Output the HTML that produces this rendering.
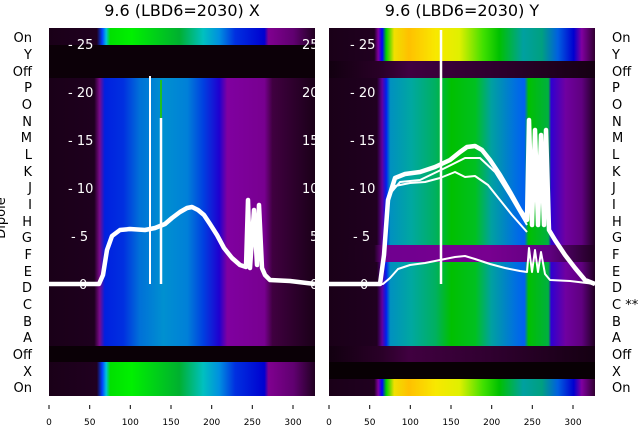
<!DOCTYPE html>
<html><head><meta charset="utf-8"><style>
html,body{margin:0;padding:0;background:#fff;}
svg{display:block;font-family:"DejaVu Sans","Liberation Sans",sans-serif;}
</style></head><body>
<svg width="640" height="440" viewBox="0 0 640 440" xmlns="http://www.w3.org/2000/svg">
<defs>
<linearGradient id="lb" x1="0" x2="1">
<stop offset="0" stop-color="#1a0018"/><stop offset="0.17" stop-color="#1e001e"/>
<stop offset="0.19" stop-color="#7a0a8a"/><stop offset="0.21" stop-color="#0020e0"/>
<stop offset="0.28" stop-color="#0030e0"/><stop offset="0.34" stop-color="#0070d8"/>
<stop offset="0.43" stop-color="#0090d0"/><stop offset="0.52" stop-color="#0080d8"/>
<stop offset="0.58" stop-color="#0040e0"/><stop offset="0.64" stop-color="#2000d0"/>
<stop offset="0.67" stop-color="#8000a0"/><stop offset="0.81" stop-color="#780090"/>
<stop offset="0.84" stop-color="#400040"/><stop offset="1" stop-color="#1a0018"/>
</linearGradient>
<linearGradient id="lg" x1="0" x2="1">
<stop offset="0" stop-color="#1a0018"/><stop offset="0.18" stop-color="#200020"/>
<stop offset="0.2" stop-color="#0040ff"/><stop offset="0.215" stop-color="#00c0e0"/>
<stop offset="0.23" stop-color="#00e000"/><stop offset="0.31" stop-color="#00f000"/>
<stop offset="0.49" stop-color="#00b030"/><stop offset="0.58" stop-color="#00c0c0"/>
<stop offset="0.64" stop-color="#0090e0"/><stop offset="0.7" stop-color="#0030e0"/>
<stop offset="0.81" stop-color="#0000d0"/><stop offset="0.825" stop-color="#800090"/>
<stop offset="0.92" stop-color="#600070"/><stop offset="1" stop-color="#200020"/>
</linearGradient>
<linearGradient id="ry" x1="0" x2="1">
<stop offset="0" stop-color="#1a0018"/><stop offset="0.17" stop-color="#200020"/>
<stop offset="0.185" stop-color="#8000a0"/><stop offset="0.2" stop-color="#0000ff"/>
<stop offset="0.215" stop-color="#00d000"/><stop offset="0.245" stop-color="#f0e000"/>
<stop offset="0.3" stop-color="#ffc000"/><stop offset="0.4" stop-color="#f8e800"/>
<stop offset="0.49" stop-color="#e0f000"/><stop offset="0.58" stop-color="#40e000"/>
<stop offset="0.64" stop-color="#00c000"/><stop offset="0.73" stop-color="#00a0a0"/>
<stop offset="0.8" stop-color="#00a080"/><stop offset="0.86" stop-color="#0060e0"/>
<stop offset="0.92" stop-color="#0000d0"/><stop offset="0.95" stop-color="#8000a0"/>
<stop offset="1" stop-color="#300030"/>
</linearGradient>
<linearGradient id="rg" x1="0" x2="1">
<stop offset="0" stop-color="#1a0018"/><stop offset="0.18" stop-color="#200020"/>
<stop offset="0.2" stop-color="#6000a0"/><stop offset="0.215" stop-color="#0020f0"/>
<stop offset="0.23" stop-color="#0090c0"/><stop offset="0.31" stop-color="#00a8a0"/>
<stop offset="0.4" stop-color="#00b060"/><stop offset="0.46" stop-color="#00c000"/>
<stop offset="0.55" stop-color="#00c020"/><stop offset="0.61" stop-color="#00a0a0"/>
<stop offset="0.7" stop-color="#0070e0"/><stop offset="0.735" stop-color="#0060f0"/>
<stop offset="0.75" stop-color="#00c000"/><stop offset="0.825" stop-color="#00b040"/>
<stop offset="0.835" stop-color="#3000d0"/><stop offset="0.89" stop-color="#7000a0"/>
<stop offset="0.95" stop-color="#600080"/><stop offset="1" stop-color="#200020"/>
</linearGradient>
<linearGradient id="rp" x1="0" x2="1">
<stop offset="0" stop-color="#1a0018"/><stop offset="0.17" stop-color="#200020"/>
<stop offset="0.2" stop-color="#700090"/><stop offset="0.6" stop-color="#780090"/>
<stop offset="0.83" stop-color="#600080"/><stop offset="1" stop-color="#200020"/>
</linearGradient>
<linearGradient id="ro" x1="0" x2="1">
<stop offset="0" stop-color="#120010"/><stop offset="0.2" stop-color="#2a0028"/>
<stop offset="0.3" stop-color="#400040"/><stop offset="0.6" stop-color="#300030"/>
<stop offset="1" stop-color="#150012"/>
</linearGradient>
</defs>

<text x="182" y="16" font-size="16" text-anchor="middle">9.6 (LBD6=2030) X</text>
<text x="462" y="16" font-size="16" text-anchor="middle">9.6 (LBD6=2030) Y</text>

<rect x="49" y="28" width="266" height="17" fill="url(#lg)"/>
<rect x="49" y="45" width="266" height="33" fill="#0c0008"/>
<rect x="49" y="78" width="266" height="268" fill="url(#lb)"/>
<rect x="49" y="346" width="266" height="16" fill="#0a0006"/>
<rect x="49" y="362" width="266" height="34" fill="url(#lg)"/>

<rect x="329" y="28" width="266" height="33" fill="url(#ry)"/>
<rect x="329" y="61" width="266" height="17" fill="url(#ro)"/>
<rect x="329" y="78" width="266" height="167" fill="url(#rg)"/>
<rect x="329" y="245" width="266" height="17" fill="url(#rp)"/>
<rect x="329" y="262" width="266" height="84" fill="url(#rg)"/>
<rect x="329" y="346" width="266" height="16" fill="url(#ro)"/>
<rect x="329" y="362" width="266" height="17" fill="#080004"/>
<rect x="329" y="379" width="266" height="17" fill="url(#ry)"/>

<g font-size="13" text-anchor="end" fill="#000">
<text x="32" y="42">On</text><text x="32" y="59">Y</text><text x="32" y="76">Off</text>
<text x="32" y="92">P</text><text x="32" y="109">O</text><text x="32" y="126">N</text>
<text x="32" y="142">M</text><text x="32" y="159">L</text><text x="32" y="176">K</text>
<text x="32" y="192">J</text><text x="32" y="209">I</text><text x="32" y="226">H</text>
<text x="32" y="242">G</text><text x="32" y="259">F</text><text x="32" y="276">E</text>
<text x="32" y="292">D</text><text x="32" y="309">C</text><text x="32" y="326">B</text>
<text x="32" y="342">A</text><text x="32" y="359">Off</text><text x="32" y="376">X</text>
<text x="32" y="392">On</text>
</g>
<text transform="translate(5,218) rotate(-90)" font-size="13" text-anchor="middle">Dipole</text>
<g font-size="13" fill="#000">
<text x="612" y="42">On</text><text x="612" y="59">Y</text><text x="612" y="76">Off</text>
<text x="612" y="92">P</text><text x="612" y="109">O</text><text x="612" y="126">N</text>
<text x="612" y="142">M</text><text x="612" y="159">L</text><text x="612" y="176">K</text>
<text x="612" y="192">J</text><text x="612" y="209">I</text><text x="612" y="226">H</text>
<text x="612" y="242">G</text><text x="612" y="259">F</text><text x="612" y="276">E</text>
<text x="612" y="292">D</text><text x="612" y="309">C **</text><text x="612" y="326">B</text>
<text x="612" y="342">A</text><text x="612" y="359">Off</text><text x="612" y="376">X</text>
<text x="612" y="392">On</text>
</g>

<g font-size="13" fill="#fff">
<text x="68" y="49">- 25</text><text x="68" y="97">- 20</text><text x="68" y="145">- 15</text>
<text x="68" y="193">- 10</text><text x="71" y="241">- 5</text><text x="79" y="289">0</text>
<text x="302" y="49">25</text><text x="302" y="97">20</text><text x="302" y="145">15</text>
<text x="302" y="193">10</text><text x="310" y="241">5</text><text x="310" y="289">0</text>
<text x="350" y="49">- 25</text><text x="350" y="97">- 20</text><text x="350" y="145">- 15</text>
<text x="350" y="193">- 10</text><text x="353" y="241">- 5</text><text x="360" y="289">0</text>
</g>

<line x1="150" y1="76" x2="150" y2="284" stroke="#fff" stroke-width="2"/>
<line x1="161" y1="80" x2="161" y2="118" stroke="#20c020" stroke-width="2"/>
<line x1="161" y1="118" x2="161" y2="284" stroke="#fff" stroke-width="2.5"/>
<polyline fill="none" stroke="#fff" stroke-width="4.5" stroke-linejoin="round"
points="49,284 99,284 103,275 107,250 112,236 120,230 130,229 145,230 155,228 165,224 172,218 180,212 187,208 192,207 198,210 204,215 210,224 217,235 224,248 232,258 240,265 246,267 248,200 250,268 254,210 257,265 259,205 262,268 265,275 270,280 290,281 315,284"/>

<line x1="441" y1="30" x2="441" y2="284" stroke="#fff" stroke-width="2.5"/>
<polyline fill="none" stroke="#fff" stroke-width="4.5" stroke-linejoin="round"
points="329,284 380,284 384,255 388,200 395,178 405,174 420,172 435,167 450,160 460,152 467,147 475,146 482,150 490,160 500,175 510,192 520,210 527,220 529,120 532,225 535,130 538,225 541,135 544,225 546,130 549,230 555,240 565,255 575,268 585,280 595,284"/>
<polyline fill="none" stroke="#fff" stroke-width="2" stroke-linejoin="round"
points="387,200 395,186 410,183 425,182 440,178 455,172 465,177 475,176 488,185 500,200 512,215 527,232"/>
<polyline fill="none" stroke="#fff" stroke-width="2" stroke-linejoin="round"
points="389,195 400,182 420,180 445,168 465,158 480,158 495,172 510,196 527,225"/>
<polyline fill="none" stroke="#fff" stroke-width="2" stroke-linejoin="round"
points="329,284 383,284 390,278 398,269 410,265 425,263 440,260 455,257 465,256 475,259 490,264 505,268 520,271 527,272 529,248 532,272 535,250 538,272 541,252 545,274 550,280 570,281 595,284"/>

<g stroke="#000" stroke-width="1">
<line x1="49" y1="405" x2="49" y2="409"/><line x1="89.7" y1="405" x2="89.7" y2="409"/>
<line x1="130.3" y1="405" x2="130.3" y2="409"/><line x1="171" y1="405" x2="171" y2="409"/>
<line x1="211.7" y1="405" x2="211.7" y2="409"/><line x1="252.3" y1="405" x2="252.3" y2="409"/>
<line x1="293" y1="405" x2="293" y2="409"/>
<line x1="329" y1="405" x2="329" y2="409"/><line x1="369.7" y1="405" x2="369.7" y2="409"/>
<line x1="410.3" y1="405" x2="410.3" y2="409"/><line x1="451" y1="405" x2="451" y2="409"/>
<line x1="491.7" y1="405" x2="491.7" y2="409"/><line x1="532.3" y1="405" x2="532.3" y2="409"/>
<line x1="573" y1="405" x2="573" y2="409"/>
</g>
<g font-size="9" text-anchor="middle" fill="#000">
<text x="49" y="425">0</text><text x="89.7" y="425">50</text><text x="130.3" y="425">100</text>
<text x="171" y="425">150</text><text x="211.7" y="425">200</text><text x="252.3" y="425">250</text>
<text x="293" y="425">300</text>
<text x="329" y="425">0</text><text x="369.7" y="425">50</text><text x="410.3" y="425">100</text>
<text x="451" y="425">150</text><text x="491.7" y="425">200</text><text x="532.3" y="425">250</text>
<text x="573" y="425">300</text>
</g>
</svg>
</body></html>
